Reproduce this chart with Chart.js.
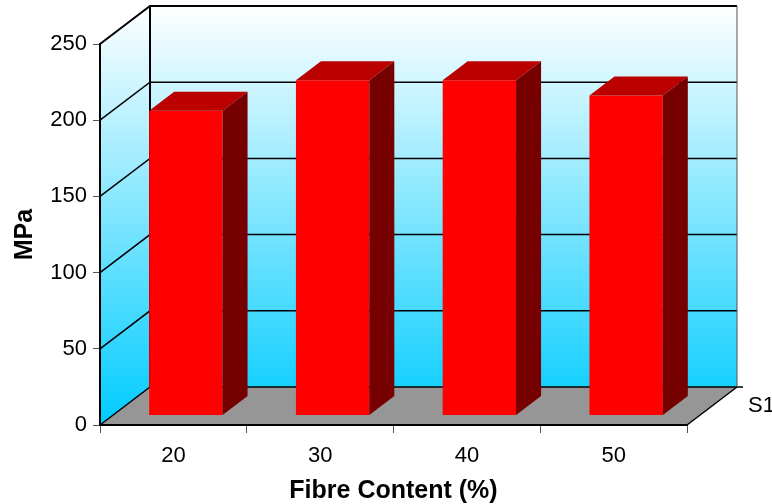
<!DOCTYPE html>
<html>
<head>
<meta charset="utf-8">
<script src="https://cdn.jsdelivr.net/npm/chart.js@4.4.1/dist/chart.umd.min.js"></script>
<style>
    html, body { margin: 0; padding: 0; background: #fff; }
</style>
</head>
<body>
<canvas id="mpaChart" width="772" height="504"></canvas>
<script>
const fibreContent = ['20', '30', '40', '50'];
const mpaValues = [200, 220, 220, 210];
const seriesNames = ['S1'];
const yTicks = [0, 50, 100, 150, 200, 250];

// depth of the 3d box (back wall offset)
const DX = 50;
const DY = -38;

const walls3d = {
    id: 'walls3d',
    beforeDraw(chart) {
        const { ctx, chartArea: a, scales: { y } } = chart;
        const y0 = y.getPixelForValue(0);
        const yTop = y.getPixelForValue(yTicks[yTicks.length - 1]);

        const grad = ctx.createLinearGradient(0, yTop + DY, 0, y0);
        grad.addColorStop(0, '#ffffff');
        grad.addColorStop(1, '#00ccff');

        ctx.save();
        // back wall
        ctx.fillStyle = grad;
        ctx.fillRect(a.left + DX, yTop + DY, a.right - a.left, y0 - yTop);

        // left wall
        ctx.beginPath();
        ctx.moveTo(a.left, yTop);
        ctx.lineTo(a.left + DX, yTop + DY);
        ctx.lineTo(a.left + DX, y0 + DY);
        ctx.lineTo(a.left, y0);
        ctx.closePath();
        ctx.fill();

        // floor
        ctx.fillStyle = '#969696';
        ctx.beginPath();
        ctx.moveTo(a.left, y0);
        ctx.lineTo(a.right, y0);
        ctx.lineTo(a.right + DX, y0 + DY);
        ctx.lineTo(a.left + DX, y0 + DY);
        ctx.closePath();
        ctx.fill();

        // grid lines on left + back wall
        ctx.strokeStyle = '#000';
        yTicks.forEach(v => {
            const py = y.getPixelForValue(v);
            ctx.lineWidth = (v === yTicks[yTicks.length - 1]) ? 2 : 1.5;
            ctx.beginPath();
            ctx.moveTo(a.left, py);
            ctx.lineTo(a.left + DX, py + DY);
            ctx.lineTo(a.right + DX + (v === 0 ? 6 : 0), py + DY);
            ctx.stroke();
        });

        // back wall edges
        ctx.lineWidth = 2;
        ctx.beginPath();
        ctx.moveTo(a.left + DX, yTop + DY);
        ctx.lineTo(a.left + DX, y0 + DY);
        ctx.stroke();

        ctx.strokeStyle = '#555';
        ctx.lineWidth = 1;
        ctx.beginPath();
        ctx.moveTo(a.right + DX, yTop + DY);
        ctx.lineTo(a.right + DX, y0 + DY);
        ctx.stroke();

        // floor right edge
        ctx.strokeStyle = '#000';
        ctx.lineWidth = 1.5;
        ctx.beginPath();
        ctx.moveTo(a.right, y0);
        ctx.lineTo(a.right + DX, y0 + DY);
        ctx.stroke();

        // series label on depth axis
        ctx.fillStyle = '#000';
        ctx.font = '22px "Liberation Sans", Arial, sans-serif';
        ctx.textAlign = 'left';
        ctx.textBaseline = 'middle';
        ctx.fillText(seriesNames[0], a.right + DX + 11, y0 + DY / 2);
        ctx.restore();
    }
};

const bars3d = {
    id: 'bars3d',
    beforeDatasetDraw(chart) {
        chart.ctx.save();
        chart.ctx.translate(DX / 4, DY / 4);
    },
    afterDatasetDraw(chart, args) {
        const ctx = chart.ctx;
        ctx.restore();
        ctx.save();
        const hx = DX / 2, hy = DY / 2;
        args.meta.data.forEach(bar => {
            const { x, y, base, width } = bar.getProps(['x', 'y', 'base', 'width'], true);
            const l = x - width / 2 + DX / 4;
            const r = x + width / 2 + DX / 4;
            const t = y + DY / 4;
            const b = base + DY / 4;

            // top face
            ctx.fillStyle = '#bb0000';
            ctx.beginPath();
            ctx.moveTo(l, t);
            ctx.lineTo(r, t);
            ctx.lineTo(r + hx, t + hy);
            ctx.lineTo(l + hx, t + hy);
            ctx.closePath();
            ctx.fill();

            // side face
            ctx.fillStyle = '#760000';
            ctx.beginPath();
            ctx.moveTo(r, t);
            ctx.lineTo(r + hx, t + hy);
            ctx.lineTo(r + hx, b + hy);
            ctx.lineTo(r, b);
            ctx.closePath();
            ctx.fill();
        });
        ctx.restore();
    }
};

new Chart(document.getElementById('mpaChart'), {
    type: 'bar',
    data: {
        labels: fibreContent,
        datasets: [{
            label: seriesNames[0],
            data: mpaValues,
            backgroundColor: '#ff0000',
            borderWidth: 0,
            barPercentage: 0.5,
            categoryPercentage: 1.0,
        }],
    },
    options: {
        responsive: false,
        animation: false,
        layout: {
            padding: { top: 44, right: 85, left: 0, bottom: 0 },
        },
        plugins: {
            legend: { display: false },
            tooltip: { enabled: false },
        },
        scales: {
            x: {
                afterFit: (scale) => { scale.height = 79; },
                grid: {
                    drawOnChartArea: false,
                    drawTicks: true,
                    tickLength: 8,
                    tickColor: '#555',
                    offset: true,
                },
                border: { display: true, color: '#000', width: 2 },
                ticks: {
                    color: '#000',
                    padding: 10,
                    font: { family: "'Liberation Sans', Arial, sans-serif", size: 22 },
                },
                title: {
                    display: true,
                    text: 'Fibre Content (%)',
                    color: '#000',
                    padding: { top: 0, bottom: 0 },
                    font: { family: "'Liberation Sans', Arial, sans-serif", size: 25, weight: 'bold', lineHeight: 1 },
                },
            },
            y: {
                min: 0,
                max: 250,
                afterFit: (scale) => { scale.width = 100; },
                grid: {
                    drawOnChartArea: false,
                    drawTicks: true,
                    tickLength: 7,
                    tickColor: '#555',
                },
                border: { display: true, color: '#000', width: 2 },
                ticks: {
                    stepSize: 50,
                    color: '#000',
                    padding: 6,
                    font: { family: "'Liberation Sans', Arial, sans-serif", size: 22 },
                },
                title: {
                    display: true,
                    text: 'MPa',
                    color: '#000',
                    padding: { top: 13, bottom: 0 },
                    font: { family: "'Liberation Sans', Arial, sans-serif", size: 25, weight: 'bold', lineHeight: 1 },
                },
            },
        },
    },
    plugins: [walls3d, bars3d],
});
</script>
</body>
</html>
